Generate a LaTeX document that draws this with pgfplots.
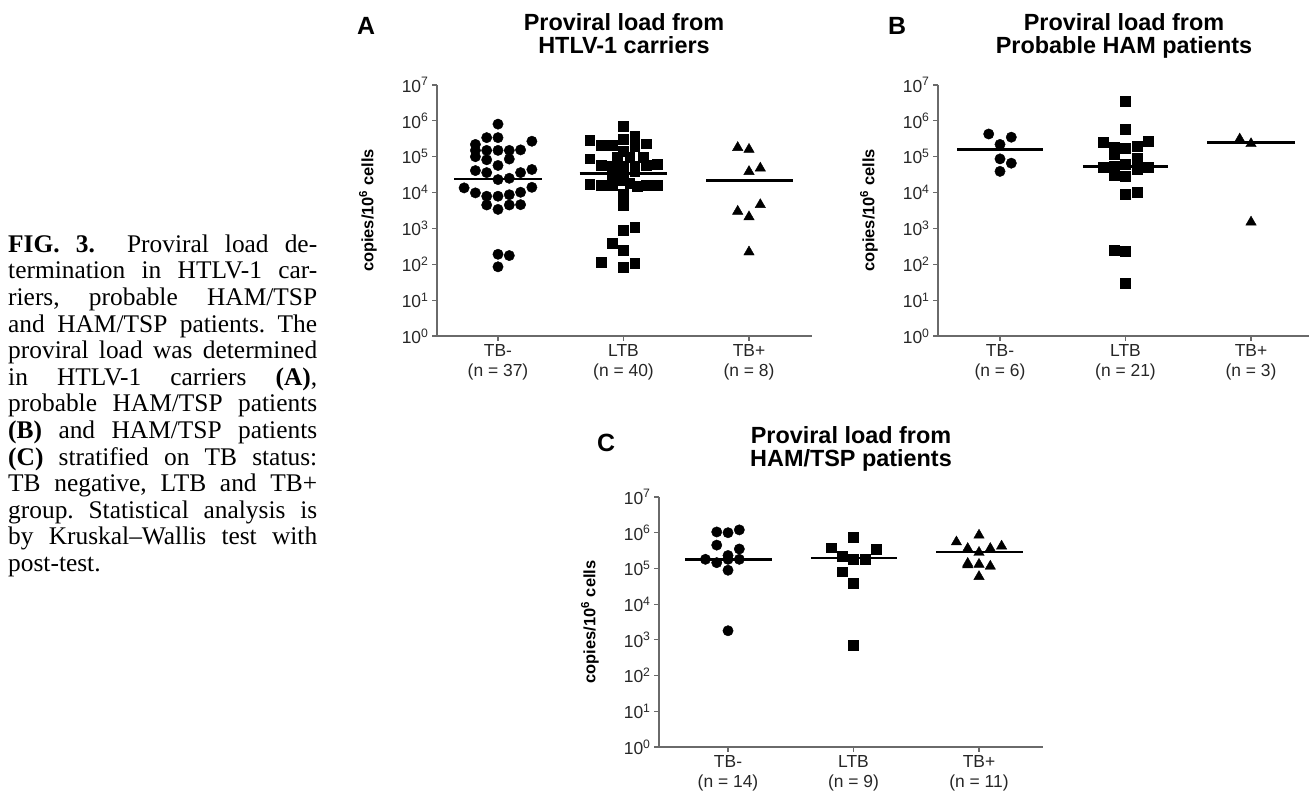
\documentclass[border=0pt]{standalone}
\usepackage{pgfplots}
\pgfplotsset{compat=1.18}
\usepackage{fontspec}
\setmainfont{Liberation Sans}
\newfontfamily\serifcap{Liberation Serif}
\definecolor{axgray}{HTML}{6A6A6A}
\frenchspacing
\pgfplotsset{
  mypanelstyle/.style={
    scale only axis,
    clip=false,
    ytick={1,10,100,1000,10000,100000,1000000,10000000},
    yticklabels={10\textsuperscript{0},10\textsuperscript{1},10\textsuperscript{2},10\textsuperscript{3},10\textsuperscript{4},10\textsuperscript{5},10\textsuperscript{6},10\textsuperscript{7}},
    yminorticks=false,
    xtick={0,1,2},
    axis x line*=bottom, axis y line*=left,
    axis line style={axgray, line width=1.4bp},
    tick style={axgray, line width=1.2bp},
    tick align=outside,
    major tick length=5bp,
    ticklabel style={font=\fontsize{17.5}{20}\selectfont, text=black!85},
    xticklabel style={align=center},
    ylabel style={anchor=center, font=\bfseries\fontsize{16.5}{19}\selectfont},
    ylabel={copies/10\textsuperscript{6} cells},
  },
  mydots/.style={only marks, mark=*, mark size=5.2bp, black},
  mysqs/.style={only marks, mark=square*, mark size=4.9bp, black},
  mytris/.style={only marks, mark=triangle*, mark size=6bp, black},
  mymed/.style={black, line width=2.8bp, no marks},
}
\begin{document}
\begin{tikzpicture}
\path[use as bounding box] (0,0) rectangle (1310bp,797bp);

% ---------------- Panel A ----------------
\begin{axis}[ymode=log, ymin=1, ymax=1e7, mypanelstyle, at={(437bp,461bp)}, anchor=south west,
  width=375bp, height=251bp, xmin=-0.486, xmax=2.502,
  ylabel style={at={(axis description cs:-0.184,0.5)}},
  xticklabels={{TB-\\(n = 37)},{LTB\\(n = 40)},{TB+\\(n = 8)}}]
\addplot[mydots] coordinates {
(0,8.1e5) (-0.09,3.4e5) (0,3.4e5) (-0.18,2.2e5) (0.27,2.7e5)
(-0.18,1.5e5) (-0.09,1.5e5) (0,1.5e5) (0.09,1.5e5) (0.18,1.55e5)
(-0.18,1.0e5) (-0.09,8.2e4) (0.09,8.6e4) (0,5.7e4)
(-0.18,4.1e4) (-0.09,3.6e4) (0.18,3.6e4) (0.27,4.4e4)
(0,2.3e4) (0.09,2.5e4)
(-0.27,1.35e4) (0.27,1.4e4) (-0.18,9.8e3) (0.18,1.02e4)
(-0.09,7.9e3) (0,7.9e3) (0.09,8.7e3)
(-0.09,4.5e3) (0.09,4.5e3) (0.18,4.6e3) (0,3.4e3)
(0,190) (0.09,175) (0,85)
};
\addplot[mymed] coordinates {(-0.35,2.4e4) (0.35,2.4e4)};
\addplot[mysqs] coordinates {
(1,7.2e5) (0.73,2.9e5) (0.82,2.1e5) (0.91,2.1e5) (1,3.1e5) (1.09,3.7e5) (1.09,1.95e5) (1.18,2.3e5)
(1,1.44e5) (0.73,8.8e4) (0.95,9.8e4) (1.05,9.8e4) (1.16,9.8e4)
(0.82,5.8e4) (0.91,5.6e4) (1,5.5e4) (1.09,5.6e4) (1.18,5.8e4) (1.27,6.2e4)
(0.91,2.8e4) (1,2.2e4) (1.09,4.0e4)
(0.73,1.7e4) (0.82,1.6e4) (0.91,1.6e4) (1.05,1.8e4) (1.11,1.5e4) (1.18,1.6e4) (1.27,1.6e4)
(1,9.2e3) (1,4.5e3)
(1,870) (1.09,1070) (0.91,380) (1,250)
(0.82,117) (1,81) (1.09,107)
};
\addplot[mymed] coordinates {(0.65,3.4e4) (1.35,3.4e4)};
\addplot[mytris] coordinates {
(1.91,1.8e5) (2,1.6e5) (2,3.85e4) (2.09,4.8e4)
(2.09,4.6e3) (1.91,3.0e3) (2,2.1e3) (2,220)
};
\addplot[mymed] coordinates {(1.66,2.2e4) (2.35,2.2e4)};
\end{axis}

% ---------------- Panel B ----------------
\begin{axis}[ymode=log, ymin=1, ymax=1e7, mypanelstyle, at={(938bp,461bp)}, anchor=south west,
  width=371bp, height=251bp, xmin=-0.494, xmax=2.462,
  ylabel style={at={(axis description cs:-0.186,0.5)}},
  xticklabels={{TB-\\(n = 6)},{LTB\\(n = 21)},{TB+\\(n = 3)}}]
\addplot[mydots] coordinates {
(-0.09,4.3e5) (0.09,3.5e5) (0,2.2e5) (0,8.7e4) (0.09,6.6e4) (0,3.9e4)
};
\addplot[mymed] coordinates {(-0.34,1.6e5) (0.34,1.6e5)};
\addplot[mysqs] coordinates {
(1,3.6e6) (1,5.8e5) (0.82,2.6e5) (1.18,2.7e5)
(0.91,1.8e5) (1,1.75e5) (1.09,1.95e5) (0.91,1.17e5) (1.09,9.1e4)
(0.82,5.1e4) (0.91,5.3e4) (1,6.2e4) (1.09,4.4e4) (1.18,5.1e4)
(0.91,3.0e4) (1,2.9e4) (1,9.1e3) (1.09,1.0e4)
(0.91,250) (1,230) (1,30)
};
\addplot[mymed] coordinates {(0.66,5.4e4) (1.34,5.4e4)};
\addplot[mytris] coordinates {(1.91,3.1e5) (2,2.3e5) (2,1.5e3)};
\addplot[mymed] coordinates {(1.65,2.5e5) (2.35,2.5e5)};
\end{axis}

% ---------------- Panel C ----------------
\begin{axis}[ymode=log, ymin=1, ymax=1e7, mypanelstyle, at={(659bp,50bp)}, anchor=south west,
  width=384bp, height=250bp, xmin=-0.55, xmax=2.51,
  ylabel style={at={(axis description cs:-0.18,0.5)}},
  xticklabels={{TB-\\(n = 14)},{LTB\\(n = 9)},{TB+\\(n = 11)}}]
\addplot[mydots] coordinates {
(-0.09,1.05e6) (0,1.0e6) (0.09,1.2e6) (-0.09,4.5e5) (0,2.3e5) (0.09,3.5e5)
(-0.18,1.8e5) (-0.09,1.45e5) (0,1.8e5) (0.09,1.8e5) (0,8.9e4) (0,1.8e3)
};
\addplot[mymed] coordinates {(-0.34,1.8e5) (0.35,1.8e5)};
\addplot[mysqs] coordinates {
(1,7.6e5) (0.82,3.8e5) (1.18,3.5e5) (0.91,2.2e5) (1,1.8e5) (1.09,1.8e5)
(0.91,8.1e4) (1,3.8e4) (1,720)
};
\addplot[mymed] coordinates {(0.66,1.95e5) (1.35,1.95e5)};
\addplot[mytris] coordinates {
(2,8.5e5) (1.82,5.5e5) (1.91,3.6e5) (2,2.8e5) (2.09,3.6e5) (2.18,4.2e5)
(1.91,1.38e5) (1.91,1.25e5) (2,1.3e5) (2.09,1.15e5) (2,5.9e4)
};
\addplot[mymed] coordinates {(1.66,2.9e5) (2.35,2.9e5)};
\end{axis}

% ---------------- Titles and letters ----------------
\begin{scope}[every node/.style={inner sep=0pt, anchor=base}]
\node[font=\bfseries\fontsize{25}{25}\selectfont] at (366bp,762bp) {A};
\node[font=\bfseries\fontsize{25}{25}\selectfont] at (897bp,762bp) {B};
\node[font=\bfseries\fontsize{25}{25}\selectfont] at (606bp,345bp) {C};
\node[font=\bfseries\fontsize{23.5}{25}\selectfont] at (624bp,766bp) {Proviral load from};
\node[font=\bfseries\fontsize{23.5}{25}\selectfont] at (624bp,743.5bp) {HTLV-1 carriers};
\node[font=\bfseries\fontsize{23.5}{25}\selectfont] at (1124bp,766bp) {Proviral load from};
\node[font=\bfseries\fontsize{23.5}{25}\selectfont] at (1124bp,743.5bp) {Probable HAM patients};
\node[font=\bfseries\fontsize{23.5}{25}\selectfont] at (851bp,353bp) {Proviral load from};
\node[font=\bfseries\fontsize{23.5}{25}\selectfont] at (851bp,330.3bp) {HAM/TSP patients};
\end{scope}

% ---------------- Caption ----------------
\node[anchor=north west, inner sep=0pt, align=left, font=\serifcap\fontsize{25.5}{26.7}\selectfont] at (8bp,562.5bp) {%
\makebox[309bp][s]{\textbf{FIG. 3.}\ \ Proviral load de-}\\
\makebox[309bp][s]{termination in HTLV-1 car-}\\
\makebox[309bp][s]{riers, probable HAM/TSP}\\
\makebox[309bp][s]{and HAM/TSP patients. The}\\
\makebox[309bp][s]{proviral load was determined}\\
\makebox[309bp][s]{in HTLV-1 carriers \textbf{(A)},}\\
\makebox[309bp][s]{probable HAM/TSP patients}\\
\makebox[309bp][s]{\textbf{(B)} and HAM/TSP patients}\\
\makebox[309bp][s]{\textbf{(C)} stratified on TB status:}\\
\makebox[309bp][s]{TB negative, LTB and TB+}\\
\makebox[309bp][s]{group. Statistical analysis is}\\
\makebox[309bp][s]{by Kruskal–Wallis test with}\\
post-test.};
\end{tikzpicture}
\end{document}
